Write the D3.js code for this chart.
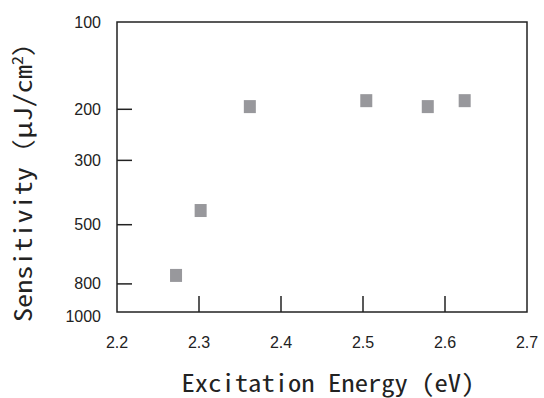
<!DOCTYPE html>
<html>
<head>
<meta charset="utf-8">
<script src="https://cdn.jsdelivr.net/npm/d3@7"></script>
<style>
  body { margin: 0; background: #fff; }
  svg { display: block; }
</style>
</head>
<body>
<div id="wrapper"></div>
<script>
// values
const energies = [2.272, 2.302, 2.362, 2.504, 2.579, 2.624];
const sensitivities = [745, 445, 195, 186, 195, 186];
const xTicks = [2.2, 2.3, 2.4, 2.5, 2.6, 2.7];
const xTickMarks = [2.3, 2.4, 2.5, 2.6];
const yTicks = [100, 200, 300, 500, 800, 1000];
const yTickMarks = [200, 300, 500, 800];

const dimensions = {
  width: 544,
  height: 398,
  margin: { top: 22, right: 17, bottom: 86, left: 117 },
};
dimensions.boundedWidth = dimensions.width - dimensions.margin.left - dimensions.margin.right;
dimensions.boundedHeight = dimensions.height - dimensions.margin.top - dimensions.margin.bottom;

const dataset = energies.map((e, i) => ({ energy: e, sens: sensitivities[i] }));

const xScale = d3.scaleLinear()
  .domain([2.2, 2.7])
  .range([0, dimensions.boundedWidth]);

const yScale = d3.scaleLog()
  .domain([100, 1000])
  .range([0, dimensions.boundedHeight]);

const svg = d3.select("#wrapper")
  .append("svg")
  .attr("width", dimensions.width)
  .attr("height", dimensions.height);

const bounds = svg.append("g")
  .attr("transform", `translate(${dimensions.margin.left},${dimensions.margin.top})`);

const labelFont = "'Liberation Sans', Arial, sans-serif";
const titleFont = "'Noto Sans Mono CJK JP', 'DejaVu Sans Mono', monospace";

// frame
bounds.append("rect")
  .attr("width", dimensions.boundedWidth)
  .attr("height", dimensions.boundedHeight)
  .attr("fill", "none")
  .attr("stroke", "#222")
  .attr("stroke-width", 1.5);

// inward tick marks
bounds.selectAll(".xTick")
  .data(xTickMarks)
  .join("line")
  .attr("x1", d => xScale(d))
  .attr("x2", d => xScale(d))
  .attr("y1", dimensions.boundedHeight)
  .attr("y2", dimensions.boundedHeight - 16)
  .attr("stroke", "#222")
  .attr("stroke-width", 1.5);

bounds.selectAll(".yTick")
  .data(yTickMarks)
  .join("line")
  .attr("x1", 0)
  .attr("x2", 15)
  .attr("y1", d => yScale(d))
  .attr("y2", d => yScale(d))
  .attr("stroke", "#222")
  .attr("stroke-width", 1.5);

// tick labels
bounds.selectAll(".xLabel")
  .data(xTicks)
  .join("text")
  .attr("x", d => xScale(d))
  .attr("y", dimensions.boundedHeight + 30)
  .attr("dy", "0.35em")
  .attr("text-anchor", "middle")
  .style("font-family", labelFont)
  .style("font-size", "16px")
  .attr("fill", "#222")
  .text(d => d3.format(".1f")(d));

bounds.selectAll(".yLabel")
  .data(yTicks)
  .join("text")
  .attr("x", -16)
  .attr("y", d => yScale(d) + (d === 1000 ? 4 : 0))
  .attr("dy", "0.35em")
  .attr("text-anchor", "end")
  .style("font-family", labelFont)
  .style("font-size", "16px")
  .attr("fill", "#222")
  .text(d => d);

// markers
const size = 12;
bounds.selectAll(".point")
  .data(dataset)
  .join("rect")
  .attr("x", d => xScale(d.energy) - size / 2)
  .attr("y", d => yScale(d.sens) - size / 2)
  .attr("width", size)
  .attr("height", size + 1)
  .attr("fill", "#98989c");

// axis titles
svg.append("text")
  .attr("x", 328)
  .attr("y", 392)
  .attr("text-anchor", "middle")
  .attr("textLength", 293)
  .attr("lengthAdjust", "spacingAndGlyphs")
  .style("font-family", titleFont)
  .style("font-size", "24px")
  .attr("fill", "#222")
  .text("Excitation Energy (eV)");

const yTitle = svg.append("text")
  .attr("transform", "translate(32,175) rotate(-90)")
  .attr("text-anchor", "middle")
  .attr("textLength", 294)
  .attr("lengthAdjust", "spacingAndGlyphs")
  .style("font-family", titleFont)
  .style("font-size", "24px")
  .attr("fill", "#222");
yTitle.append("tspan").text("Sensitivity（μJ/cm");
yTitle.append("tspan").attr("dy", -9).style("font-size", "15px").text("2");
yTitle.append("tspan").attr("dy", 9).text("）");
</script>
</body>
</html>
